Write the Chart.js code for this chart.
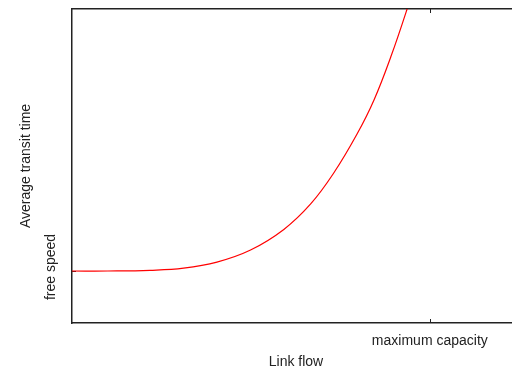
<!DOCTYPE html>
<html>
<head>
<meta charset="utf-8">
<script src="https://cdn.jsdelivr.net/npm/chart.js@4"></script>
<style>
  html, body { margin: 0; padding: 0; background: #fff; overflow: hidden; }
  #wrap { width: 512px; height: 367px; overflow: hidden; }
</style>
</head>
<body>
<div id="wrap"><canvas id="chart" width="520" height="367"></canvas></div>
<script>
// flow relative to capacity, transit time relative to free-flow time
const flow = [0, 0.10, 0.218, 0.312, 0.405, 0.499, 0.592, 0.667, 0.731, 0.797, 0.844, 0.891, 0.936, 0.98];
const transitTime = [1.00, 1.00, 1.014, 1.055, 1.172, 1.404, 1.80, 2.29, 2.88, 3.64, 4.29, 5.12, 6.03, 7.0];

const xTickValues = [1];
const xTickLabels = ['maximum capacity'];
const yTickValues = [1];
const yTickLabels = ['free speed'];

const axisColor = '#222';
const font = { family: 'Liberation Sans, Arial, sans-serif', size: 14 };

// ticks pointing into the plot, plus the rotated y tick label
const innerTicks = {
    id: 'innerTicks',
    beforeDatasetsDraw(chart) {
        const ctx = chart.ctx;
        const area = chart.chartArea;
        ctx.save();
        ctx.strokeStyle = axisColor;
        ctx.lineWidth = 1;
        xTickValues.forEach(v => {
            const px = Math.round(chart.scales.x.getPixelForValue(v)) + 0.5;
            ctx.beginPath();
            ctx.moveTo(px, area.bottom);
            ctx.lineTo(px, area.bottom - 4);
            ctx.moveTo(px, area.top);
            ctx.lineTo(px, area.top + 4);
            ctx.stroke();
        });
        yTickValues.forEach(v => {
            const py = Math.round(chart.scales.y.getPixelForValue(v)) + 0.5;
            ctx.beginPath();
            ctx.moveTo(area.left, py);
            ctx.lineTo(area.left + 4, py);
            ctx.stroke();
        });
        ctx.restore();
    },
    afterDraw(chart) {
        const ctx = chart.ctx;
        ctx.save();
        ctx.fillStyle = axisColor;
        ctx.font = font.size + 'px ' + font.family;
        ctx.textAlign = 'center';
        ctx.textBaseline = 'middle';
        yTickValues.forEach((v, i) => {
            const py = chart.scales.y.getPixelForValue(v);
            ctx.save();
            ctx.translate(51, py - 4);
            ctx.rotate(-Math.PI / 2);
            ctx.fillText(yTickLabels[i], 0, 0);
            ctx.restore();
        });
        ctx.restore();
    }
};

new Chart(document.getElementById('chart'), {
    type: 'line',
    data: {
        datasets: [{
            data: flow.map((f, i) => ({ x: f, y: transitTime[i] })),
            borderColor: '#ff0000',
            borderWidth: 1.2,
            pointRadius: 0,
            tension: 0.4,
            fill: false
        }]
    },
    options: {
        responsive: false,
        animation: false,
        layout: { padding: 0 },
        plugins: { legend: { display: false }, tooltip: { enabled: false } },
        scales: {
            x: {
                type: 'linear',
                position: 'bottom',
                min: 0,
                max: 1.252,
                afterBuildTicks: s => { s.ticks = xTickValues.map(v => ({ value: v })); },
                afterFit: s => { s.height = 44; },
                grid: { drawOnChartArea: false, drawTicks: false },
                border: { display: true, color: axisColor, width: 1.5 },
                ticks: {
                    autoSkip: false,
                    maxRotation: 0,
                    padding: 10,
                    color: axisColor,
                    font: font,
                    callback: (v, i) => xTickLabels[i]
                },
                title: {
                    display: true,
                    text: 'Link flow',
                    color: axisColor,
                    font: font,
                    padding: { top: 0, bottom: -4 }
                }
            },
            x2: {
                type: 'linear',
                position: 'top',
                min: 0,
                max: 1.252,
                afterFit: s => { s.height = 9; },
                grid: { drawOnChartArea: false, drawTicks: false },
                border: { display: true, color: axisColor, width: 1.5 },
                ticks: { display: false }
            },
            y: {
                type: 'linear',
                position: 'left',
                min: 0,
                max: 6.04,
                afterBuildTicks: s => { s.ticks = yTickValues.map(v => ({ value: v })); },
                afterFit: s => { s.width = 72; },
                grid: { drawOnChartArea: false, drawTicks: false },
                border: { display: true, color: axisColor, width: 1.5 },
                ticks: { display: false },
                title: {
                    display: true,
                    text: 'Average transit time',
                    color: axisColor,
                    font: font,
                    padding: { top: 18, bottom: 0 }
                }
            }
        }
    },
    plugins: [innerTicks]
});
</script>
</body>
</html>
